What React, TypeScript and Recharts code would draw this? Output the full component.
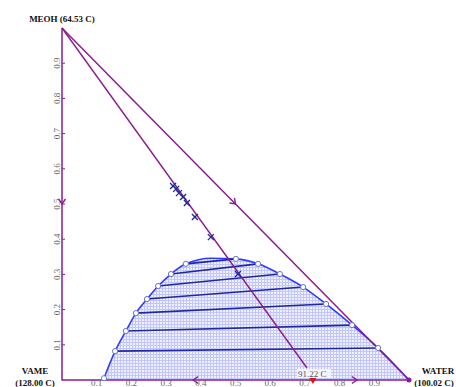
import React from 'react';
import { ComposedChart, Area, Scatter, XAxis, YAxis } from 'recharts';

// Ternary diagram MEOH / VAME / WATER, right-triangle layout
// x = WATER mole fraction, y = MEOH mole fraction

const vertexNames = ['MEOH', 'VAME', 'WATER'];
const vertexTemps = ['64.53', '128.00', '100.02'];
const vertexX = [0, 0, 1];
const vertexY = [1, 0, 0];

const ticks = [0.1, 0.2, 0.3, 0.4, 0.5, 0.6, 0.7, 0.8, 0.9];

// organic-rich (left) and water-rich (right) ends of the tie lines
const leftX = [0.153, 0.184, 0.213, 0.245, 0.277, 0.314, 0.357];
const leftY = [0.082, 0.139, 0.19, 0.23, 0.267, 0.301, 0.33];
const rightX = [0.911, 0.836, 0.761, 0.695, 0.628, 0.565, 0.501];
const rightY = [0.091, 0.156, 0.216, 0.264, 0.301, 0.33, 0.344];

// binodal curve (base point, left branch, top, right branch, WATER)
const curveX = [0.121, ...leftX, 0.43, ...[...rightX].reverse(), 1];
const curveY = [0.005, ...leftY, 0.346, ...[...rightY].reverse(), 0];

// distillation line ending at the 91.22 C point
const lineEndX = 0.706;
const lineEndY = 0.034;
const lineEndTemp = '91.22 C';

// residue points along that line
const crossX = [0.32, 0.329, 0.337, 0.349, 0.36, 0.383, 0.429, 0.507];
const crossY = [0.551, 0.543, 0.531, 0.52, 0.503, 0.463, 0.406, 0.301];

// arrows on the triangle edges: position and direction
const arrowX = [0, 0.5, 0.378, 0.85];
const arrowY = [0.5, 0.5, 0, 0];
const arrowDX = [0, 1, -1, 1];
const arrowDY = [-1, -1, 0, 0];

const markerX = 0.723;

const PURPLE = '#8c1d8e';
const BLUE = '#2f3cff';
const NAVY = '#1f2a98';
const SERIF = '"Liberation Serif", "Times New Roman", serif';

const curveData = curveX.map((x, i) => ({ x, y: curveY[i] }));
const edgeData = [0, 1, 2, 0].map((i) => ({ x: vertexX[i], y: vertexY[i] }));
const vertexData = vertexNames.map((name, i) => ({ x: vertexX[i], y: vertexY[i], name, temp: vertexTemps[i] }));
const tieLines = leftX.map((x, i) => [
  { x, y: leftY[i] },
  { x: rightX[i], y: rightY[i] },
]);
const circleData = [
  { x: curveX[0], y: curveY[0] },
  ...leftX.map((x, i) => ({ x, y: leftY[i] })),
  ...rightX.map((x, i) => ({ x, y: rightY[i] })),
];
const feedLine = [
  { x: vertexX[0], y: vertexY[0] },
  { x: lineEndX, y: lineEndY },
];
const crossData = crossX.map((x, i) => ({ x, y: crossY[i] }));
const arrowData = arrowX.map((x, i) => ({ x, y: arrowY[i], dx: arrowDX[i], dy: arrowDY[i] }));

const Empty = () => <g />;

const Circle = ({ cx, cy }: any) => (
  <circle cx={cx} cy={cy} r={2.6} fill="#ffffff" stroke="#6a72c8" strokeWidth={1} />
);

const Cross = ({ cx, cy }: any) => (
  <g stroke={NAVY} strokeWidth={1.3}>
    <line x1={cx - 3} y1={cy - 3} x2={cx + 3} y2={cy + 3} />
    <line x1={cx - 3} y1={cy + 3} x2={cx + 3} y2={cy - 3} />
  </g>
);

const Arrow = ({ cx, cy, payload }: any) => {
  const a = (Math.atan2(-payload.dy, payload.dx) * 180) / Math.PI;
  return (
    <g transform={`translate(${cx},${cy}) rotate(${a})`} stroke={PURPLE} strokeWidth={1.4} fill="none">
      <polyline points="-5,-3.5 0,0 -5,3.5" />
    </g>
  );
};

const EndLabel = ({ cx, cy }: any) => (
  <g>
    <rect x={cx - 10} y={cy + 1} width={34} height={9} fill="#ffffff" opacity={0.75} />
    <text x={cx - 9} y={cy + 9} fontSize={9} fill="#555" fontFamily={SERIF}>
      {lineEndTemp}
    </text>
  </g>
);

const RedMarker = ({ cx, cy }: any) => (
  <polygon points={`${cx - 3.5},${cy - 2} ${cx + 3.5},${cy - 2} ${cx},${cy + 4}`} fill="#e0101a" />
);

const VertexLabel = ({ cx, cy, payload }: any) => {
  const common = { fontSize: 9, fontWeight: 'bold', fill: '#111', fontFamily: SERIF, textAnchor: 'middle' as const };
  if (payload.name === 'MEOH') {
    return (
      <text x={cx} y={cy - 6} {...common}>
        {`${payload.name} (${payload.temp} C)`}
      </text>
    );
  }
  const water = payload.name === 'WATER';
  const tx = water ? cx + 29 : cx - 27;
  const tx2 = water ? cx + 25 : cx - 27;
  return (
    <g>
      {water && <circle cx={cx} cy={cy} r={2.5} fill={PURPLE} />}
      <text x={tx} y={cy - 6} {...common}>{payload.name}</text>
      <text x={tx2} y={cy + 6} {...common}>{`(${payload.temp} C)`}</text>
    </g>
  );
};

const XTick = ({ x, y, payload }: any) => (
  <text x={x} y={y + 6} textAnchor="middle" fontSize={9} fill="#666" fontFamily={SERIF}>
    {payload.value}
  </text>
);

const YTick = ({ x, y, payload }: any) => (
  <g>
    <line x1={x + 2} y1={y} x2={x + 5} y2={y} stroke={PURPLE} strokeWidth={1} />
    <text x={x} y={y} transform={`rotate(-90 ${x} ${y})`} textAnchor="middle" fontSize={9} fill="#666" fontFamily={SERIF}>
      {payload.value}
    </text>
  </g>
);

export default function App() {
  return (
    <div style={{ position: 'absolute', left: 0, top: 0, background: '#fff' }}>
      <ComposedChart width={456} height={387} data={curveData} margin={{ top: 28, right: 47, bottom: 0, left: 0 }}>
        <defs>
          <pattern id="hatch" width={3} height={3} patternUnits="userSpaceOnUse">
            <rect width={3} height={3} fill="#f0f0ff" />
            <path d="M0 0.5H3M0.5 0V3" stroke="#c2c6ff" strokeWidth={1} />
          </pattern>
        </defs>
        <XAxis
          type="number"
          dataKey="x"
          domain={[0, 1]}
          ticks={ticks}
          height={7}
          axisLine={false}
          tickLine={false}
          tickSize={0}
          tickMargin={0}
          tick={<XTick />}
          interval={0}
        />
        <YAxis
          type="number"
          dataKey="y"
          domain={[0, 1]}
          ticks={ticks}
          width={62}
          axisLine={false}
          tickLine={false}
          tickSize={0}
          tickMargin={2}
          tick={<YTick />}
          interval={0}
        />
        <Area
          type="monotone"
          dataKey="y"
          stroke={BLUE}
          strokeWidth={1.6}
          fill="url(#hatch)"
          fillOpacity={1}
          isAnimationActive={false}
        />
        {tieLines.map((seg, i) => (
          <Scatter
            key={`tie-${i}`}
            data={seg}
            line={{ stroke: NAVY, strokeWidth: 1.6 }}
            shape={<Empty />}
            isAnimationActive={false}
          />
        ))}
        <Scatter data={edgeData} line={{ stroke: PURPLE, strokeWidth: 1.5 }} shape={<Empty />} isAnimationActive={false} />
        <Scatter data={feedLine} line={{ stroke: PURPLE, strokeWidth: 1.4 }} shape={<Empty />} isAnimationActive={false} />
        <Scatter data={[feedLine[1]]} shape={<EndLabel />} isAnimationActive={false} />
        <Scatter data={circleData} shape={<Circle />} isAnimationActive={false} />
        <Scatter data={crossData} shape={<Cross />} isAnimationActive={false} />
        <Scatter data={arrowData} shape={<Arrow />} isAnimationActive={false} />
        <Scatter data={[{ x: markerX, y: 0 }]} shape={<RedMarker />} isAnimationActive={false} />
        <Scatter data={vertexData} shape={<VertexLabel />} isAnimationActive={false} />
      </ComposedChart>
    </div>
  );
}
